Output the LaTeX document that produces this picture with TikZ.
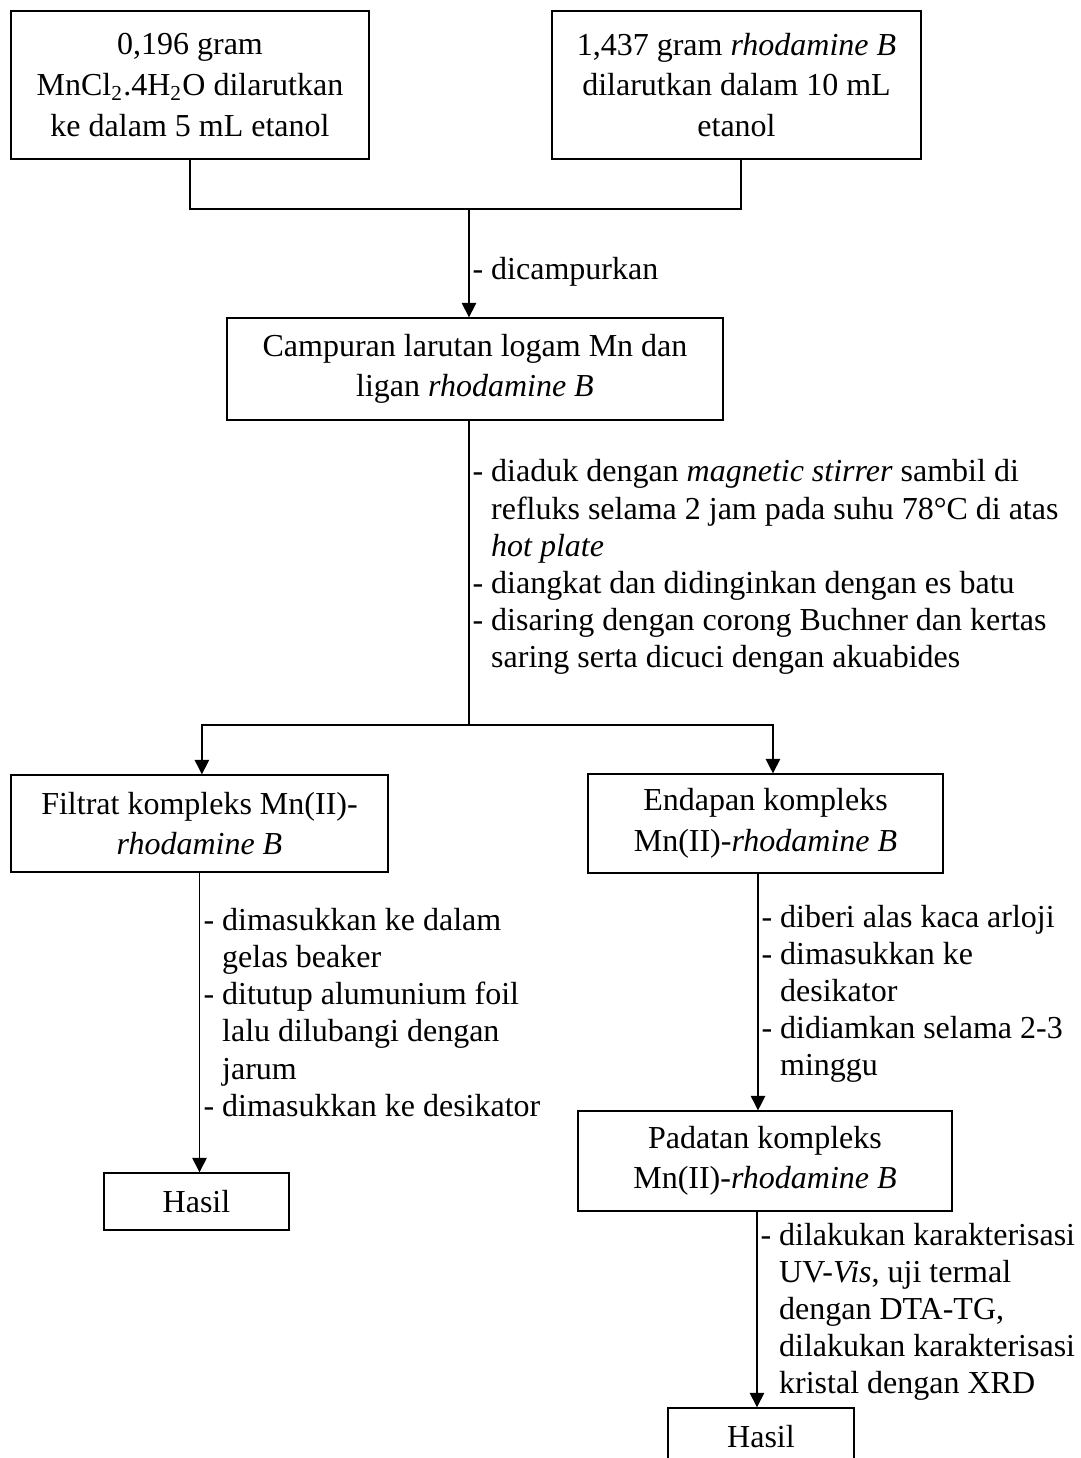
\documentclass[tikz,border=0pt]{standalone}
\usepackage{fontspec}
\setmainfont{Liberation Serif}
\usetikzlibrary{arrows.meta}
\tikzstyle{box} = [draw, thick, align=center, inner sep=0pt, font={\fontsize{12}{15.2}\selectfont}]
\tikzstyle{note} = [anchor=west, align=left, inner sep=0pt, font={\fontsize{12}{13.9}\selectfont}]
\tikzstyle{flow} = [thick]
\tikzstyle{arr} = [flow, -{Triangle[width=5.4pt,length=5.4pt]}]
\newcommand{\lanjut}{\phantom{- }}

\begin{document}
\begin{tikzpicture}[x=0.375pt, y=-0.375pt, thick/.style={line width=0.5pt}]
    \useasboundingbox (0,0) rectangle (1080,1458);
    % bahan awal
    \node[box, minimum width=134.25pt, minimum height=55.5pt](mncl) at (190,85)
        {0,196 gram\\MnCl\textsubscript{2}.4H\textsubscript{2}O dilarutkan\\ke dalam 5 mL etanol};
    \node[box, minimum width=138.4pt, minimum height=55.5pt](rhod) at (736.5,85)
        {1,437 gram \textit{rhodamine B}\\dilarutkan dalam 10 mL\\etanol};
    \node[box, minimum width=186pt, minimum height=38.25pt](campur) at (475,369)
        {Campuran larutan logam Mn dan\\ligan \textit{rhodamine B}};
    \node[box, minimum width=141.4pt, minimum height=36.4pt](filtrat) at (199.5,823.5)
        {Filtrat kompleks Mn(II)-\\\textit{rhodamine B}};
    \node[box, minimum width=133.1pt, minimum height=37.1pt](endapan) at (765.5,823.5)
        {Endapan kompleks\\Mn(II)-\textit{rhodamine B}};
    \node[box, minimum width=140.25pt, minimum height=37.5pt](padatan) at (765,1161)
        {Padatan kompleks\\Mn(II)-\textit{rhodamine B}};
    \node[box, minimum width=69.4pt, minimum height=21.4pt](hasila) at (196.5,1201.5){Hasil};
    \node[box, minimum width=69.8pt, minimum height=21.4pt](hasilb) at (761,1436.5){Hasil};
    % keterangan
    \node[note](ket1) at (472,272){- dicampurkan};
    \node[note](ket2) at (472,567){- diaduk dengan \textit{magnetic stirrer} sambil di\\
        \lanjut refluks selama 2 jam pada suhu 78°C di atas\\
        \lanjut\textit{hot plate}\\
        - diangkat dan didinginkan dengan es batu\\
        - disaring dengan corong Buchner dan kertas\\
        \lanjut saring serta dicuci dengan akuabides};
    \node[note](ket3) at (203,1012.5){- dimasukkan ke dalam\\
        \lanjut gelas beaker\\
        - ditutup alumunium foil\\
        \lanjut lalu dilubangi dengan\\
        \lanjut jarum\\
        - dimasukkan ke desikator};
    \node[note](ket4) at (761,994){- diberi alas kaca arloji\\
        - dimasukkan ke\\
        \lanjut desikator\\
        - didiamkan selama 2-3\\
        \lanjut minggu};
    \node[note](ket5) at (760,1311.5){- dilakukan karakterisasi\\
        \lanjut UV-\textit{Vis}, uji termal\\
        \lanjut dengan DTA-TG,\\
        \lanjut dilakukan karakterisasi\\
        \lanjut kristal dengan XRD};
    % garis alir
    \coordinate (j1) at (469,209);
    \coordinate (j2) at (469,725);
    \draw[flow](mncl.south) |- (j1);
    \draw[flow]([xshift=1.7pt]rhod.south) |- (j1);
    \draw[arr](j1) -- (j1 |- campur.north);
    \draw[flow](j2 |- campur.south) -- (j2);
    \draw[arr](j2) -| ([xshift=0.9pt]filtrat.north);
    \draw[arr](j2) -| ([xshift=2.8pt]endapan.north);
    \draw[arr](filtrat.south) -- (filtrat.south |- hasila.north);
    \draw[arr]([xshift=-2.8pt]endapan.south) -- ([xshift=-2.8pt]endapan.south |- padatan.north);
    \draw[arr]([xshift=-3pt]padatan.south) -- ([xshift=-3pt]padatan.south |- hasilb.north);
\end{tikzpicture}
\end{document}
